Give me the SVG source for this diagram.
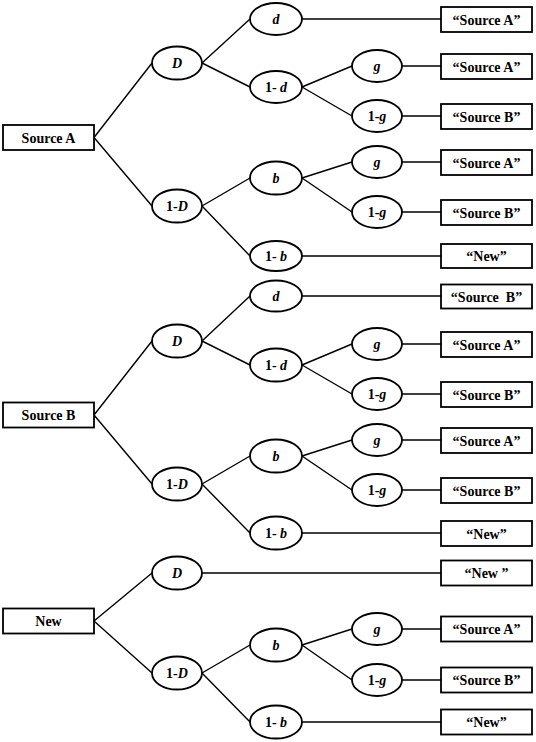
<svg xmlns="http://www.w3.org/2000/svg" width="536" height="742" viewBox="0 0 536 742">
<style>
.bx{fill:#fff;stroke:#000;stroke-width:1.8}
.el{fill:#fff;stroke:#000;stroke-width:1.8}
.cn{stroke:#000;stroke-width:1.4;fill:none}
.t{font-family:"Liberation Serif","Times New Roman",serif;font-weight:bold;font-size:14px;text-anchor:middle;fill:#000}
.i{font-style:italic}
</style>
<rect width="536" height="742" fill="#fff"/>
<g id="connectors" class="cn">
<!-- Block A -->
<path d="M94 137.5L152 63M94 137.5L152 206"/>
<path d="M202 63L250 19M202 63L250 87M202 206L250 178M202 206L250 256"/>
<path d="M302 87L352 66M302 87L352 116M302 178L352 162M302 178L352 212"/>
<path d="M302 19H441M402 66H441M402 116H441M402 162H441M402 212H441M302 256H441"/>
<!-- Block B -->
<path d="M94 415L152 341M94 415L152 484"/>
<path d="M202 341L250 296M202 341L250 365M202 484L250 456M202 484L250 533"/>
<path d="M302 365L352 344M302 365L352 394M302 456L352 440M302 456L352 490"/>
<path d="M302 296H441M402 344H441M402 394H441M402 440H441M402 490H441M302 533H441"/>
<!-- Block New -->
<path d="M94 621L152 573M94 621L152 673"/>
<path d="M202 573H441"/>
<path d="M202 673L250 645M202 673L250 722"/>
<path d="M302 645L352 629M302 645L352 680"/>
<path d="M402 629H441M402 680H441M302 722H441"/>
</g>
<!-- Block A -->
<g id="rootA"><rect class="bx" x="3" y="125" width="91" height="25"/><text class="t" x="48.5" y="142.5">Source A</text></g>
<g id="A_D"><ellipse class="el" cx="177" cy="63" rx="25" ry="16.5"/><text class="t" x="177" y="68"><tspan class="i">D</tspan></text></g>
<g id="A_1D"><ellipse class="el" cx="177" cy="206" rx="25" ry="16.5"/><text class="t" x="177" y="211">1-<tspan class="i">D</tspan></text></g>
<g id="A_d"><ellipse class="el" cx="276" cy="19" rx="26" ry="16"/><text class="t" x="276" y="24"><tspan class="i">d</tspan></text></g>
<g id="A_1d"><ellipse class="el" cx="276" cy="87" rx="26" ry="16"/><text class="t" x="276" y="92" xml:space="preserve">1- <tspan class="i">d</tspan></text></g>
<g id="A_b"><ellipse class="el" cx="276" cy="178" rx="26" ry="16.5"/><text class="t" x="276" y="183"><tspan class="i">b</tspan></text></g>
<g id="A_1b"><ellipse class="el" cx="276" cy="256" rx="26" ry="15"/><text class="t" x="276" y="261" xml:space="preserve">1- <tspan class="i">b</tspan></text></g>
<g id="A_g1"><ellipse class="el" cx="377" cy="66" rx="25" ry="16"/><text class="t" x="377" y="71"><tspan class="i">g</tspan></text></g>
<g id="A_1g1"><ellipse class="el" cx="377" cy="116" rx="25" ry="16"/><text class="t" x="377" y="121">1-<tspan class="i">g</tspan></text></g>
<g id="A_g2"><ellipse class="el" cx="377" cy="162" rx="25" ry="16"/><text class="t" x="377" y="167"><tspan class="i">g</tspan></text></g>
<g id="A_1g2"><ellipse class="el" cx="377" cy="212" rx="25" ry="16"/><text class="t" x="377" y="217">1-<tspan class="i">g</tspan></text></g>
<g id="A_o1"><rect class="bx" x="441" y="7" width="91" height="25"/><text class="t" x="486.5" y="24.5">“Source A”</text></g>
<g id="A_o2"><rect class="bx" x="441" y="54" width="91" height="25"/><text class="t" x="486.5" y="71.5">“Source A”</text></g>
<g id="A_o3"><rect class="bx" x="441" y="104" width="91" height="25"/><text class="t" x="486.5" y="121.5">“Source B”</text></g>
<g id="A_o4"><rect class="bx" x="441" y="150" width="91" height="25"/><text class="t" x="486.5" y="167.5">“Source A”</text></g>
<g id="A_o5"><rect class="bx" x="441" y="200" width="91" height="25"/><text class="t" x="486.5" y="217.5">“Source B”</text></g>
<g id="A_o6"><rect class="bx" x="441" y="244" width="91" height="24"/><text class="t" x="486.5" y="261">“New”</text></g>
<!-- Block B -->
<g id="rootB"><rect class="bx" x="3" y="402.5" width="91" height="25"/><text class="t" x="48.5" y="420">Source B</text></g>
<g id="B_D"><ellipse class="el" cx="177" cy="341" rx="25" ry="16.5"/><text class="t" x="177" y="346"><tspan class="i">D</tspan></text></g>
<g id="B_1D"><ellipse class="el" cx="177" cy="484" rx="25" ry="16.5"/><text class="t" x="177" y="489">1-<tspan class="i">D</tspan></text></g>
<g id="B_d"><ellipse class="el" cx="276" cy="296" rx="26" ry="15.5"/><text class="t" x="276" y="301"><tspan class="i">d</tspan></text></g>
<g id="B_1d"><ellipse class="el" cx="276" cy="365" rx="26" ry="16.5"/><text class="t" x="276" y="370" xml:space="preserve">1- <tspan class="i">d</tspan></text></g>
<g id="B_b"><ellipse class="el" cx="276" cy="456" rx="26" ry="16.5"/><text class="t" x="276" y="461"><tspan class="i">b</tspan></text></g>
<g id="B_1b"><ellipse class="el" cx="276" cy="533" rx="26" ry="16.5"/><text class="t" x="276" y="538" xml:space="preserve">1- <tspan class="i">b</tspan></text></g>
<g id="B_g1"><ellipse class="el" cx="377" cy="344" rx="25" ry="16"/><text class="t" x="377" y="349"><tspan class="i">g</tspan></text></g>
<g id="B_1g1"><ellipse class="el" cx="377" cy="394" rx="25" ry="16"/><text class="t" x="377" y="399">1-<tspan class="i">g</tspan></text></g>
<g id="B_g2"><ellipse class="el" cx="377" cy="440" rx="25" ry="16"/><text class="t" x="377" y="445"><tspan class="i">g</tspan></text></g>
<g id="B_1g2"><ellipse class="el" cx="377" cy="490" rx="25" ry="16"/><text class="t" x="377" y="495">1-<tspan class="i">g</tspan></text></g>
<g id="B_o1"><rect class="bx" x="441" y="284.5" width="91" height="24"/><text class="t" x="486.5" y="301.5" xml:space="preserve">“Source  B”</text></g>
<g id="B_o2"><rect class="bx" x="441" y="332" width="91" height="25"/><text class="t" x="486.5" y="349.5">“Source A”</text></g>
<g id="B_o3"><rect class="bx" x="441" y="382" width="91" height="25"/><text class="t" x="486.5" y="399.5">“Source B”</text></g>
<g id="B_o4"><rect class="bx" x="441" y="428" width="91" height="25"/><text class="t" x="486.5" y="445.5">“Source A”</text></g>
<g id="B_o5"><rect class="bx" x="441" y="478" width="91" height="25"/><text class="t" x="486.5" y="495.5">“Source B”</text></g>
<g id="B_o6"><rect class="bx" x="441" y="521" width="91" height="25"/><text class="t" x="486.5" y="538.5">“New”</text></g>
<!-- Block New -->
<g id="rootN"><rect class="bx" x="3" y="608.5" width="91" height="25"/><text class="t" x="48.5" y="626">New</text></g>
<g id="N_D"><ellipse class="el" cx="177" cy="573" rx="25" ry="16.5"/><text class="t" x="177" y="578"><tspan class="i">D</tspan></text></g>
<g id="N_1D"><ellipse class="el" cx="177" cy="673" rx="25" ry="16.5"/><text class="t" x="177" y="678">1-<tspan class="i">D</tspan></text></g>
<g id="N_b"><ellipse class="el" cx="276" cy="645" rx="26" ry="16.5"/><text class="t" x="276" y="650"><tspan class="i">b</tspan></text></g>
<g id="N_1b"><ellipse class="el" cx="276" cy="722" rx="26" ry="16.5"/><text class="t" x="276" y="727" xml:space="preserve">1- <tspan class="i">b</tspan></text></g>
<g id="N_g"><ellipse class="el" cx="377" cy="629" rx="25" ry="16"/><text class="t" x="377" y="634"><tspan class="i">g</tspan></text></g>
<g id="N_1g"><ellipse class="el" cx="377" cy="680" rx="25" ry="16"/><text class="t" x="377" y="685">1-<tspan class="i">g</tspan></text></g>
<g id="N_o1"><rect class="bx" x="441" y="560.5" width="91" height="25"/><text class="t" x="486.5" y="578" xml:space="preserve">“New ”</text></g>
<g id="N_o2"><rect class="bx" x="441" y="616.5" width="91" height="25"/><text class="t" x="486.5" y="634">“Source A”</text></g>
<g id="N_o3"><rect class="bx" x="441" y="667.5" width="91" height="25"/><text class="t" x="486.5" y="685">“Source B”</text></g>
<g id="N_o4"><rect class="bx" x="441" y="709.5" width="91" height="25"/><text class="t" x="486.5" y="727">“New”</text></g>
</svg>
